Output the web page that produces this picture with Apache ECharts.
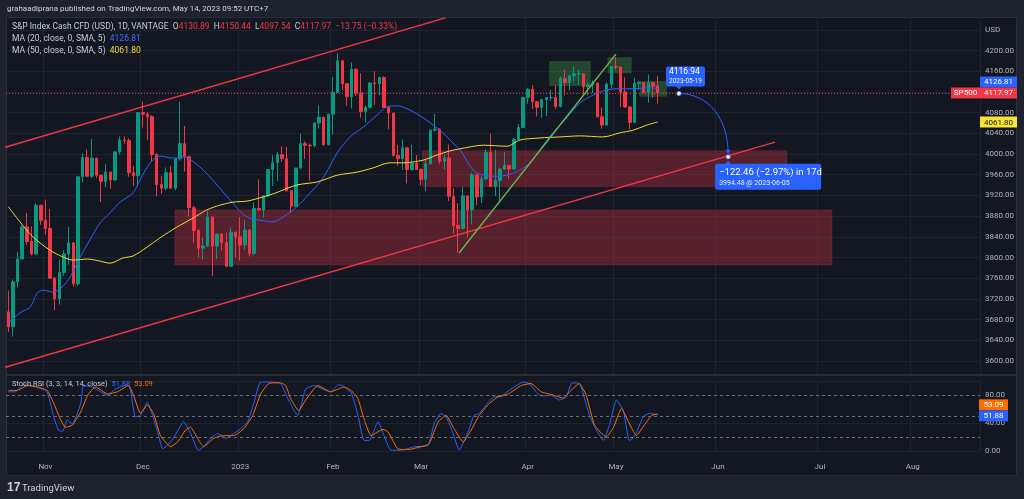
<!DOCTYPE html>
<html><head><meta charset="utf-8">
<script src="https://cdn.jsdelivr.net/npm/echarts/dist/echarts.min.js"></script>
<style>html,body{margin:0;padding:0;background:#1e222d;overflow:hidden}#c{width:1024px;height:499px}</style>
</head><body><div id="c"></div>
<script>
// ---------- categories (trading days) ----------
const startDate = '2022-10-20';
const barCount = 210;
const holidays = ['2022-11-24','2022-12-26','2023-01-02','2023-01-16','2023-02-20','2023-04-07','2023-05-29','2023-07-04'];
const monthNames = ['Jan','Feb','Mar','Apr','May','Jun','Jul','Aug','Sep','Oct','Nov','Dec'];

// ---------- candles: [open, high, low, close] ----------
const ohlc = [
[3695,3736,3656,3666],[3666,3758,3647,3753],[3753,3811,3742,3797],[3797,3863,3797,3859],[3859,3886,3824,3831],
[3831,3860,3804,3807],[3807,3905,3806,3901],[3901,3902,3863,3872],[3872,3912,3844,3856],[3856,3894,3759,3760],
[3760,3762,3698,3720],[3720,3796,3709,3771],[3771,3814,3765,3807],[3807,3859,3786,3828],[3828,3830,3744,3749],
[3749,3958,3745,3956],[3956,4001,3945,3993],[3993,4009,3956,3957],[3957,4029,3953,3992],[3992,3993,3954,3959],
[3959,3960,3907,3947],[3947,3980,3936,3965],[3965,3966,3933,3950],[3950,4006,3948,4004],[4004,4034,3999,4027],
[4027,4034,4020,4026],[4026,4030,3956,3964],[3964,3977,3938,3958],[3958,4081,3938,4080],[4080,4101,4051,4077],
[4077,4081,4027,4072],[4072,4075,3985,3999],[3999,4002,3918,3941],[3941,3958,3923,3934],[3934,3974,3930,3964],
[3964,3977,3933,3934],[3934,3991,3930,3991],[3991,4101,3987,4020],[4020,4054,3966,3995],[3995,3996,3879,3896],
[3896,3900,3828,3852],[3852,3855,3800,3818],[3818,3838,3796,3822],[3822,3890,3820,3878],[3878,3880,3764,3822],
[3822,3846,3797,3845],[3845,3847,3813,3829],[3829,3848,3781,3783],[3783,3858,3782,3849],[3849,3850,3800,3840],
[3840,3878,3794,3824],[3824,3873,3815,3853],[3853,3855,3802,3808],[3808,3906,3805,3895],[3895,3951,3890,3892],
[3892,3920,3877,3919],[3919,3970,3918,3970],[3970,3998,3938,3983],[3983,4004,3948,3999],[3999,4015,3985,3991],
[3991,4014,3927,3929],[3929,3930,3886,3899],[3899,3973,3898,3973],[3973,4039,3971,4020],[4020,4024,3990,4017],
[4017,4020,3949,4016],[4016,4062,4013,4060],[4060,4094,4049,4071],[4071,4072,4016,4018],[4018,4077,4017,4077],
[4077,4149,4037,4119],[4119,4195,4118,4180],[4180,4182,4123,4136],[4136,4137,4093,4111],[4111,4177,4088,4164],
[4164,4165,4112,4118],[4118,4156,4070,4082],[4082,4094,4061,4090],[4090,4139,4088,4137],[4137,4160,4095,4136],
[4136,4148,4114,4148],[4148,4150,4090,4090],[4090,4092,4048,4079],[4079,4080,3995,3997],[3997,4017,3977,3991],
[3991,4028,3969,4012],[4012,4013,3943,3970],[3970,4018,3968,3982],[3982,3998,3969,3970],[3970,3972,3939,3951],
[3951,3991,3928,3981],[3981,4048,3980,4046],[4046,4078,4044,4048],[4048,4050,3980,3986],[3986,4000,3970,3992],
[3992,4018,3909,3918],[3918,3934,3846,3862],[3862,3905,3809,3856],[3856,3937,3854,3919],[3919,3920,3838,3892],
[3892,3964,3864,3960],[3960,3961,3901,3917],[3917,3957,3905,3952],[3952,4009,3950,4003],[4003,4039,3936,3937],
[3937,4008,3919,3949],[3949,3973,3909,3971],[3971,4004,3970,3978],[3978,3979,3952,3971],[3971,4031,3970,4028],
[4028,4058,4027,4051],[4051,4111,4050,4109],[4109,4128,4097,4125],[4125,4133,4087,4101],[4101,4102,4073,4090],
[4090,4107,4070,4105],[4105,4110,4073,4109],[4109,4124,4103,4109],[4109,4134,4087,4092],[4092,4150,4090,4146],
[4146,4163,4113,4138],[4138,4152,4123,4151],[4151,4169,4140,4155],[4155,4163,4134,4155.5],[4155,4156,4115,4130],
[4130,4138,4114,4134],[4134,4142,4118,4137],[4137,4138,4071,4072],[4072,4090,4049,4056],[4056,4138,4055,4135],
[4135,4170,4127,4169],[4169,4187,4164,4168],[4168,4169,4090,4120],[4120,4148,4089,4091],[4091,4092,4048,4061],
[4061,4147,4060,4136],[4136,4142,4124,4138],[4138,4139,4117,4119],[4119,4154,4099,4138],[4138,4139,4109,4131],
[4130.89,4150.44,4097.54,4117.97]
];

// ---------- indicators: [barPosition, value] ----------
const ma20 = [[0,3673],[2.5,3693],[4.7,3704],[6.2,3731],[7.5,3737],[9.6,3733],[11.6,3743],[13.3,3762],[15.5,3801],[17.6,3834],
[19.8,3867],[21.9,3886],[24.1,3907],[26.9,3925],[28.4,3950],[30.6,3983],[32.7,3996],[35.5,3992],[37.7,3994],[41.3,3975],
[45.0,3940],[48.4,3905],[51.5,3878],[54.3,3872],[57.1,3869],[59.2,3878],[62.2,3898],[65.1,3925],[67.9,3954],[70.9,4002],
[73.7,4033],[76.5,4052],[79.5,4075],[81.6,4091],[83.8,4093],[86.6,4085],[89.4,4070],[91.6,4056],[93.7,4041],[95.9,4021],
[97.4,4008],[100.2,3969],[102.4,3959],[105.4,3957],[107.5,3959],[110.3,3969],[112.5,3983],[114.6,4008],[117.4,4041],[120.5,4071],
[123.3,4099],[126.1,4114],[129.1,4124],[131.9,4126],[134.7,4126],[137.7,4128],[140,4126.81]];
const ma50 = [[0,3898],[2.5,3869],[5.3,3840],[9.0,3814],[11.8,3801],[14.0,3795],[17.0,3797],[19.8,3793],[21.9,3789],[24.7,3799],
[26.9,3803],[29.9,3820],[32.7,3838],[36.4,3859],[39.8,3876],[42.8,3892],[45.6,3901],[48.4,3907],[51.5,3909],[54.9,3917],
[57.1,3923],[62.2,3940],[66.6,3946],[70.9,3959],[75.2,3965],[78.6,3973],[82.3,3983],[85.1,3983],[89.4,3988],[92.4,3998],
[95.2,4006],[97.4,4010],[102.4,4017],[107.5,4015],[110.3,4027],[114.6,4031],[118.9,4033],[123.3,4035],[128.2,4033],[131.9,4041],
[134.7,4046],[137.7,4056],[140,4061.80]];
const stochK = [[0,85],[1.5,85],[3.2,95],[5.4,93],[7.3,89],[8.4,85],[9.7,51],[10.8,30],[11.7,28],[12.7,44],[13.8,39],[15.6,68],[16.2,94],
[18.1,92],[19.9,85],[21.4,80],[23.1,89],[25.7,95],[26.3,89],[27.4,49],[28.5,51],[30.0,70],[31.1,51],[32.2,27],[33.3,3],[34.3,8],
[35.6,18],[37.8,42],[39.3,25],[41.0,1],[42.1,6],[43.2,15],[45.1,25],[46.9,18],[48.6,25],[50.1,32],[51.6,42],[52.9,68],[54.4,99],
[56.6,99],[58.7,97],[60.3,75],[61.6,58],[62.4,51],[64.1,89],[65.9,94],[67.8,89],[69.5,85],[71.1,95],[72.1,94],[73.2,87],[73.9,85],
[75.4,51],[76.7,15],[77.8,15],[79.7,42],[81.0,22],[82.5,1],[84.7,1],[87.5,6],[90.5,8],[91.8,39],[93.3,54],[94.4,49],[95.9,25],
[97.2,1],[99.1,27],[100.4,51],[101.5,54],[103.5,70],[104.8,78],[106.3,78],[107.3,84],[109.1,92],[111.0,99],[112.3,97],[113.8,85],
[114.9,79],[117.1,80],[118.8,73],[120.3,78],[121.4,97],[122.5,98],[123.5,92],[125.3,51],[126.8,30],[128.3,15],[129.6,37],[131.1,73],
[132.6,58],[133.9,15],[135.0,20],[136.9,49],[138.2,54],[140,51.88]];
const stochD = [[0,87],[1.9,87],[4.1,94],[6.3,92],[8.4,87],[9.7,70],[11.2,46],[12.3,34],[13.8,37],[15.6,56],[17.1,80],[18.8,92],
[21.4,82],[23.5,85],[25.9,94],[27.0,80],[28.5,54],[30.0,66],[31.3,54],[32.8,22],[35.0,6],[36.5,13],[38.2,30],[39.3,34],[40.8,18],
[42.1,6],[44.3,18],[46.2,22],[48.6,22],[50.8,32],[52.7,51],[54.4,82],[56.2,97],[58.7,98],[59.8,94],[60.9,75],[62.6,58],[64.1,73],
[66.7,94],[69.5,85],[72.4,92],[73.9,87],[75.4,75],[76.7,46],[78.2,22],[80.8,31],[81.9,27],[84.0,3],[86.2,2],[89.0,6],[90.7,10],
[92.7,42],[94.4,51],[96.1,32],[98.1,13],[99.8,30],[101.5,51],[103.7,68],[105.6,78],[107.8,82],[110.6,94],[112.7,97],[114.9,85],
[117.1,81],[119.7,76],[121.0,85],[123.1,97],[124.6,80],[126.4,37],[128.9,20],[130.5,34],[132.2,61],[133.7,42],[135.4,22],[137.1,37],
[138.7,51],[140,53.09]];

// ---------- drawings: [barPosition, price] ----------
const channelUpper = [[-0.7,4013],[94.2,4263]];
const channelLower = [[-0.7,3588],[165.3,4023]];
const greenTrend = [[97.2,3809],[131.0,4193]];
const redZones = [[35.9,177.6,3891.8,3785.5],[89.3,167.9,4006.4,3936.8]];
const greenZones = [[116.6,125.6,4179.7,4131.4],[129.2,134.4,4186.9,4155.9],[136.1,142.0,4141.1,4110.7]];
const projStart = [144.6,4116.94];
const projEnd = [155.2,3994.48];
const projText1 = ['4116.94','2023-05-19'];
const projText2 = ['\u2212122.46 (\u22122.97%) in 17d','3994.48 @ 2023-06-05'];

// ---------- legend values ----------
const lastBar = {o:'4130.89',h:'4150.44',l:'4097.54',c:'4117.97',chg:'\u221213.75 (\u22120.33%)'};
const lastClose = 4117.97, lastMA20 = 4126.81, lastMA50 = 4061.80, lastK = 51.88, lastD = 53.09;

// ---------- build dates ----------
function buildDates(start, n){
  const out=[]; const d=new Date(start+'T00:00:00Z');
  while(out.length<n){
    const s=d.toISOString().slice(0,10); const w=d.getUTCDay();
    if(w!==0&&w!==6&&holidays.indexOf(s)<0) out.push(s);
    d.setUTCDate(d.getUTCDate()+1);
  }
  return out;
}
const dates = buildDates(startDate, barCount);
const isMonthStart = (i)=> i>0 && dates[i].slice(5,7)!==dates[i-1].slice(5,7);

const C_UP='#089981', C_DN='#f23645', C_BLUE='#2962ff', C_YEL='#f5d93a', C_ORG='#ff6d00';
const TXT='#b2b5be', GRIDC='#1f2431', PANEL='#131722', OUTER='#1e222d';
const FONT='Roboto, "DejaVu Sans", sans-serif';

const chart = echarts.init(document.getElementById('c'), null, {renderer:'canvas'});
const xCat = (grid, showLabel)=>({
  type:'category', gridIndex:grid, data:dates, boundaryGap:true,
  axisLine:{show:false}, axisTick:{show:false},
  axisLabel:{show:showLabel, interval:(i)=>isMonthStart(i), color:TXT, fontSize:8, fontFamily:FONT, margin:12,
    formatter:(v)=>{const m=+v.slice(5,7); return m===1? v.slice(0,4) : monthNames[m-1];}},
  splitLine:{show:true, interval:(i)=>isMonthStart(i), lineStyle:{color:GRIDC, width:1}},
  z: grid===1?3:0
});
const xVal = (grid)=>({type:'value', gridIndex:grid, min:-0.5, max:barCount-0.5, show:false});

const option = {
  backgroundColor: OUTER,
  animation:false,
  grid:[
    {left:6, right:44, top:9.1, height:372.6, containLabel:false, outerBoundsMode:'none'},
    {left:6, right:44, top:381.4, height:69.5, containLabel:false, outerBoundsMode:'none'}
  ],
  xAxis:[ xCat(0,false), xVal(0), xCat(1,true), xVal(1) ],
  yAxis:[
    {type:'value', gridIndex:0, position:'right', min:3560, max:4280, interval:40, scale:true,
     axisLine:{show:false}, axisTick:{show:false},
     axisLabel:{color:TXT, fontSize:8, fontFamily:FONT, margin:5,
       formatter:(v)=> v===4240?'USD' : (v===4120||v===4280||v===3560)?'' : v.toFixed(2)},
     splitLine:{lineStyle:{color:GRIDC}}},
    {type:'value', gridIndex:1, position:'right', min:0, max:100, interval:40, z:3,
     axisLine:{show:false}, axisTick:{show:false},
     axisLabel:{color:TXT, fontSize:8, fontFamily:FONT, margin:5, formatter:(v)=> v>=100?'':v.toFixed(2)},
     splitLine:{lineStyle:{color:GRIDC}}}
  ],
  series:[
    {name:'SP500', type:'candlestick', xAxisIndex:0, yAxisIndex:0, barWidth:'64%',
     data: ohlc.map(r=>[r[0],r[3],r[2],r[1]]),
     itemStyle:{color:C_UP, color0:C_DN, borderColor:C_UP, borderColor0:C_DN, borderWidth:1},
     markLine:{silent:true, symbol:['none','none'], label:{show:false},
       lineStyle:{color:C_DN, type:[1,2], width:1}, data:[{yAxis:lastClose}]}},
    {name:'MA20', type:'line', xAxisIndex:1, yAxisIndex:0, data:ma20, smooth:0.3, showSymbol:false, symbol:'none',
     lineStyle:{color:C_BLUE, width:1}, z:3},
    {name:'MA50', type:'line', xAxisIndex:1, yAxisIndex:0, data:ma50, smooth:0.3, showSymbol:false, symbol:'none',
     lineStyle:{color:C_YEL, width:1}, z:3},
    {name:'upper', type:'line', xAxisIndex:1, yAxisIndex:0, data:channelUpper, showSymbol:false, symbol:'none',
     lineStyle:{color:C_DN, width:1.5}, z:5,
     markArea:{silent:true, data: redZones.map(z=>[
        {xAxis:z[0], yAxis:z[2], itemStyle:{color:'rgba(242,54,69,0.30)', borderColor:'rgba(242,54,69,0.35)', borderWidth:0.5}},
        {xAxis:z[1], yAxis:z[3]}]).concat(greenZones.map(z=>[
        {xAxis:z[0], yAxis:z[2], itemStyle:{color:'rgba(76,175,80,0.30)', borderWidth:0}},
        {xAxis:z[1], yAxis:z[3]}]))}},
    {name:'lower', type:'line', xAxisIndex:1, yAxisIndex:0, data:channelLower, showSymbol:false, symbol:'none',
     lineStyle:{color:C_DN, width:1.5}, z:5},
    {name:'trend', type:'line', xAxisIndex:1, yAxisIndex:0, data:greenTrend, showSymbol:false, symbol:'none',
     lineStyle:{color:'#66bb4a', width:1.5}, z:5},
    {name:'K', type:'line', xAxisIndex:3, yAxisIndex:1, data:stochK, smooth:0.15, showSymbol:false, symbol:'none',
     lineStyle:{color:C_BLUE, width:1}, z:4,
     markLine:{silent:true, symbol:['none','none'], label:{show:false},
       lineStyle:{color:'#6a6d78', type:[3,3], width:1}, data:[{yAxis:80},{yAxis:50},{yAxis:20}]}},
    {name:'D', type:'line', xAxisIndex:3, yAxisIndex:1, data:stochD, smooth:0.15, showSymbol:false, symbol:'none',
     lineStyle:{color:C_ORG, width:1}, z:4,
     markArea:{silent:true, itemStyle:{color:'rgba(41,98,255,0.13)'}, data:[[{yAxis:20},{yAxis:80}]]}}
  ]
};
chart.setOption(option);

// ---------- overlay graphics positioned from data ----------
const P = (pt)=>chart.convertToPixel({seriesIndex:1}, pt);
const yMain = (v)=>chart.convertToPixel({yAxisIndex:0}, v);
const yRsi = (v)=>chart.convertToPixel({yAxisIndex:1}, v);
const g = [];
g.push({type:'rect', z:-10, shape:{x:6.5,y:17.5,width:1010,height:458}, style:{fill:PANEL, stroke:'#2a2e39', lineWidth:1}});
g.push({type:'rect', z:1, shape:{x:7,y:376,width:1009,height:80}, style:{fill:PANEL}});
g.push({type:'line', z:6, shape:{x1:7,y1:375,x2:1016,y2:375}, style:{stroke:'#2a2e39', lineWidth:2}});
g.push({type:'rect', z:10, shape:{x:0,y:0,width:1024,height:17}, style:{fill:OUTER}});
function text(x,y,t,fill,size,opts){
  g.push(Object.assign({type:'text', z:12, x, y, style:Object.assign({text:t, fill, font:size+'px '+FONT, verticalAlign:'middle', align:'left'}, opts||{})}));
}
text(7,9,'grahaadiprana published on TradingView.com, May 14, 2023 09:52 UTC+7','#d1d4dc',8);
g.push({type:'text', z:12, x:12, y:26.5, style:{font:'8.5px '+FONT, fill:'#c8cbd3', verticalAlign:'middle',
  text:'{t|S&P Index Cash CFD (USD), 1D, VANTAGE}  {t|O}{r|'+lastBar.o+'}  {t|H}{r|'+lastBar.h+'}  {t|L}{r|'+lastBar.l+'}  {t|C}{r|'+lastBar.c+'}  {r|'+lastBar.chg+'}',
  rich:{t:{fill:'#c8cbd3', font:'8.5px '+FONT}, r:{fill:C_DN, font:'8.5px '+FONT}}}});
g.push({type:'text', z:12, x:12, y:38.5, style:{font:'8.5px '+FONT, fill:'#c8cbd3', verticalAlign:'middle',
  text:'{t|MA (20, close, 0, SMA, 5)}  {b|'+lastMA20.toFixed(2)+'}', rich:{t:{fill:'#c8cbd3', font:'8.5px '+FONT}, b:{fill:'#3d6eff', font:'8.5px '+FONT}}}});
g.push({type:'text', z:12, x:12, y:50.5, style:{font:'8.5px '+FONT, fill:'#c8cbd3', verticalAlign:'middle',
  text:'{t|MA (50, close, 0, SMA, 5)}  {b|'+lastMA50.toFixed(2)+'}', rich:{t:{fill:'#c8cbd3', font:'8.5px '+FONT}, b:{fill:C_YEL, font:'8.5px '+FONT}}}});
g.push({type:'text', z:12, x:12, y:384.5, style:{font:'7.5px '+FONT, fill:'#c8cbd3', verticalAlign:'middle',
  text:'{t|Stoch RSI (3, 3, 14, 14, close)}  {b|'+lastK.toFixed(2)+'}  {o|'+lastD.toFixed(2)+'}',
  rich:{t:{fill:'#c8cbd3', font:'7.5px '+FONT}, b:{fill:'#3d6eff', font:'7.5px '+FONT}, o:{fill:C_ORG, font:'7.5px '+FONT}}}});
text(7,488,'17','#d1d4dc',11,{fontWeight:'bold', font:'bold 11px "DejaVu Sans", sans-serif'});
text(22,488.5,'TradingView','#d1d4dc',9.5);

function tag(x,yc,w,t,bg,fg){
  g.push({type:'rect', z:12, shape:{x,y:yc-5.5,width:w,height:11}, style:{fill:bg}});
  g.push({type:'text', z:13, x:x+w/2, y:yc+0.5, style:{text:t, fill:fg, font:'8px '+FONT, align:'center', verticalAlign:'middle'}});
}
const yC = yMain(lastClose);
tag(980, yC-11, 37, lastMA20.toFixed(2), C_BLUE, '#fff');
tag(951, yC, 29, 'SP500', C_DN, '#fff');
tag(980, yC, 37, lastClose.toFixed(2), C_DN, '#fff');
tag(980, yMain(lastMA50), 37, lastMA50.toFixed(2), '#f7e436', '#131722');
const yK = yRsi(lastK)+1;
tag(979, yK-11, 29, lastD.toFixed(2), C_ORG, '#fff');
tag(979, yK, 29, lastK.toFixed(2), C_BLUE, '#fff');

// projection
const A = P(projStart), B = P(projEnd);
g.push({type:'bezierCurve', z:11, shape:{x1:A[0],y1:A[1],x2:B[0],y2:B[1]-3,cpx1:A[0]+(B[0]-A[0])*0.6,cpy1:A[1],cpx2:B[0],cpy2:A[1]+(B[1]-A[1])*0.4},
  style:{stroke:C_BLUE, lineWidth:1, fill:null}});
g.push({type:'polygon', z:11, shape:{points:[[B[0]-2.5,B[1]-7],[B[0]+2.5,B[1]-7],[B[0],B[1]-3]]}, style:{fill:C_BLUE}});
g.push({type:'circle', z:12, shape:{cx:A[0],cy:A[1],r:2.2}, style:{fill:'#fff', stroke:C_BLUE, lineWidth:0.6}});
g.push({type:'circle', z:12, shape:{cx:B[0],cy:B[1],r:2.2}, style:{fill:'#fff', stroke:C_BLUE, lineWidth:0.6}});
// callout 1
g.push({type:'rect', z:12, shape:{x:A[0]-13,y:A[1]-27,width:39,height:20,r:2}, style:{fill:C_BLUE}});
g.push({type:'polygon', z:12, shape:{points:[[A[0]-3,A[1]-7.5],[A[0]+3,A[1]-7.5],[A[0],A[1]-4]]}, style:{fill:C_BLUE}});
text(A[0]-10,A[1]-21.5,projText1[0],'#fff',8.5);
text(A[0]-10,A[1]-12.5,projText1[1],'#e8ecff',6.5);
// callout 2
g.push({type:'rect', z:12, shape:{x:B[0]-13,y:B[1]+7,width:106,height:26,r:2}, style:{fill:C_BLUE}});
g.push({type:'polygon', z:12, shape:{points:[[B[0]-3,B[1]+7.5],[B[0]+3,B[1]+7.5],[B[0],B[1]+4]]}, style:{fill:C_BLUE}});
text(B[0]-9,B[1]+15.5,projText2[0],'#fff',9.5);
text(B[0]-9,B[1]+26,projText2[1],'#e8ecff',7);

chart.setOption({graphic:{elements:g}});
</script></body></html>
